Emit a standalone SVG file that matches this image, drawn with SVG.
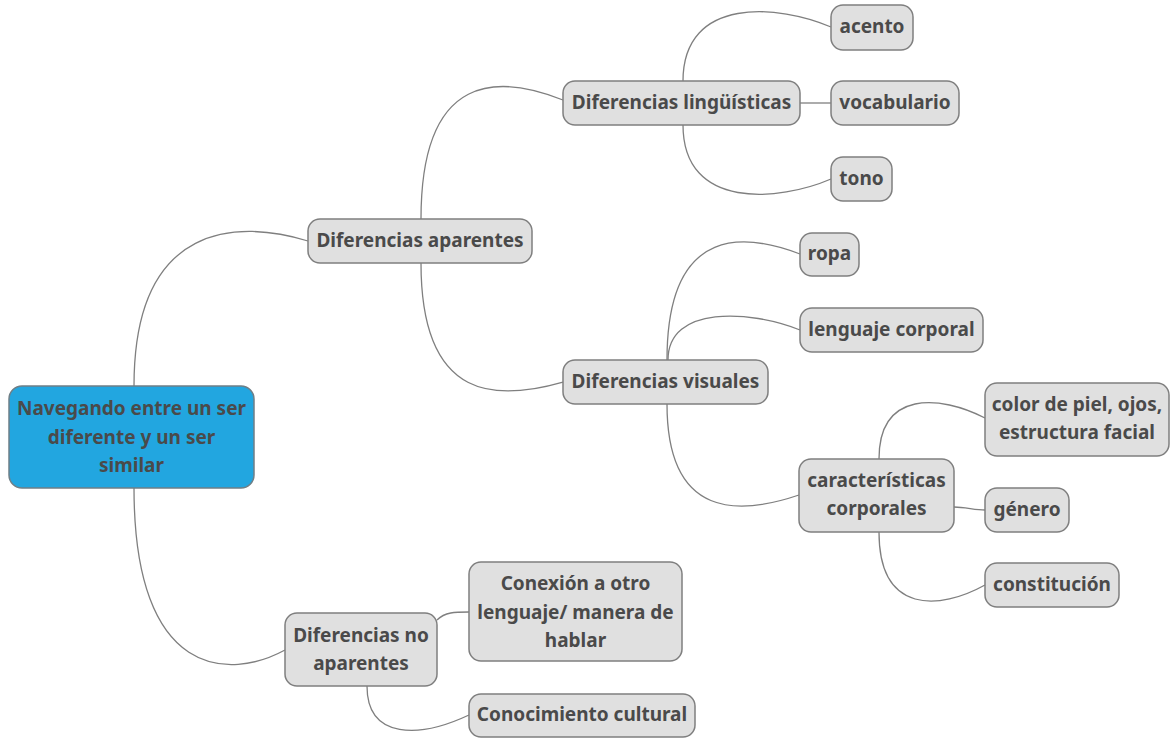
<svg xmlns="http://www.w3.org/2000/svg" width="1170" height="738" viewBox="0 0 1170 738">
<style>
.n rect{fill:#e0e0e0;stroke:#7f7f7f;stroke-width:1.5}
.r rect{fill:#22a6e0;stroke:#6f7f87;stroke-width:1.5}
text{font-family:"Noto Sans","Open Sans","DejaVu Sans",sans-serif;font-weight:700;font-size:19px;fill:#4a4a4a;text-anchor:middle}
.c path{fill:none;stroke:#7f7f7f;stroke-width:1.3}
</style>
<rect width="1170" height="738" fill="#ffffff"/>
<g class="c" id="connectors">
<path d="M134,386 C134,220 240,220 308,241"/>
<path d="M134,488 C134,680 230,680 285,650"/>
<path d="M421,219 C421,70 500,75 563,100"/>
<path d="M421,263 C421,405 500,400 563,382"/>
<path d="M683,81 C683,-5 780,5 831,27"/>
<path d="M800,103 L831,103"/>
<path d="M683,125 C683,211 780,201 831,179"/>
<path d="M667,360 C667,220 750,235 800,254"/>
<path d="M668,360 C668,305 750,310 800,330"/>
<path d="M667,404 C667,520 740,515 799,495"/>
<path d="M879,459 C879,390 940,395 985,418"/>
<path d="M954,507 C965,507 975,510 985,510"/>
<path d="M879,532 C879,615 940,610 985,585"/>
<path d="M437,620 C445,612 455,612 469,612"/>
<path d="M367,686 C367,740 420,738 469,715"/>
</g>
<g id="root" class="r"><rect x="9" y="386" width="245" height="102" rx="13"/>
<text x="131.5" y="415">Navegando entre un ser</text><text x="131.5" y="444">diferente y un ser</text><text x="131.5" y="472">similar</text></g>
<g id="dap" class="n"><rect x="308" y="219" width="224" height="44" rx="12"/><text x="420" y="247">Diferencias aparentes</text></g>
<g id="dling" class="n"><rect x="563" y="81" width="237" height="44" rx="12"/><text x="681.5" y="109">Diferencias lingüísticas</text></g>
<g id="acento" class="n"><rect x="831" y="5" width="82" height="45" rx="12"/><text x="872" y="33">acento</text></g>
<g id="vocab" class="n"><rect x="831" y="81" width="128" height="44" rx="12"/><text x="895" y="109">vocabulario</text></g>
<g id="tono" class="n"><rect x="831" y="157" width="61" height="44" rx="12"/><text x="861.5" y="185">tono</text></g>
<g id="dvis" class="n"><rect x="563" y="360" width="205" height="44" rx="12"/><text x="665.5" y="388">Diferencias visuales</text></g>
<g id="ropa" class="n"><rect x="800" y="233" width="59" height="43" rx="12"/><text x="829.5" y="260">ropa</text></g>
<g id="lcorp" class="n"><rect x="800" y="308" width="183" height="44" rx="12"/><text x="891.5" y="336">lenguaje corporal</text></g>
<g id="ccorp" class="n"><rect x="799" y="459" width="155" height="73" rx="12"/><text x="876.5" y="487">características</text><text x="876.5" y="515">corporales</text></g>
<g id="color" class="n"><rect x="985" y="383" width="184" height="73" rx="12"/><text x="1077" y="411">color de piel, ojos,</text><text x="1077" y="439">estructura facial</text></g>
<g id="genero" class="n"><rect x="985" y="488" width="84" height="44" rx="12"/><text x="1027" y="516">género</text></g>
<g id="const" class="n"><rect x="985" y="563" width="134" height="44" rx="12"/><text x="1052" y="591">constitución</text></g>
<g id="dnap" class="n"><rect x="285" y="613" width="152" height="73" rx="12"/><text x="361" y="642">Diferencias no</text><text x="361" y="670">aparentes</text></g>
<g id="conex" class="n"><rect x="469" y="562" width="213" height="99" rx="12"/><text x="575.5" y="590">Conexión a otro</text><text x="575.5" y="619">lenguaje/ manera de</text><text x="575.5" y="647">hablar</text></g>
<g id="cultura" class="n"><rect x="469" y="694" width="226" height="43" rx="12"/><text x="582" y="721">Conocimiento cultural</text></g>
</svg>
